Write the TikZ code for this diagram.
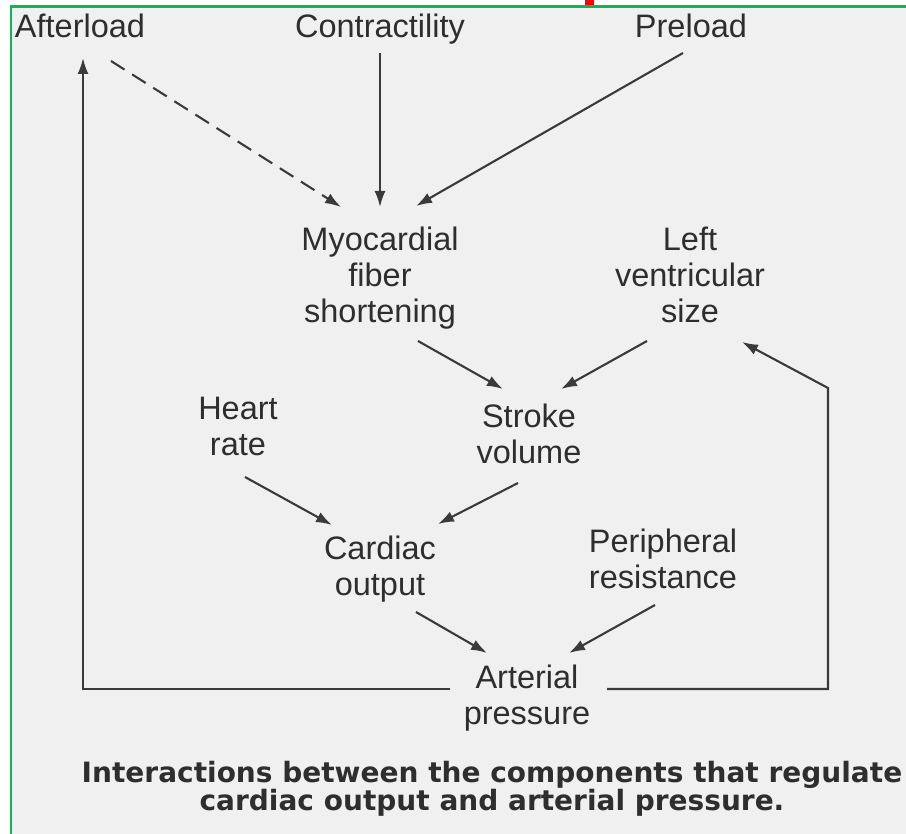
\documentclass[tikz,border=0pt]{standalone}
\usepackage{fontspec}
\setmainfont{Liberation Sans}
\newfontfamily\capfont{DejaVu Sans}
\usetikzlibrary{arrows.meta,calc}
\definecolor{pane}{HTML}{F0F0F0}
\definecolor{ink}{HTML}{2E2E2E}
\definecolor{wire}{HTML}{3A3A3A}
\definecolor{framegreen}{HTML}{16B055}
\definecolor{flagred}{HTML}{FF0000}

\begin{document}
\begin{tikzpicture}[
  x=1pt, y=-1pt,
  tip/.style={-{Latex[length=16pt,width=11pt]}},
  arr/.style={wire, line width=2.1pt, tip},
  word/.style={font=\fontsize{32.5}{36}\selectfont, text=ink, align=center, inner sep=0pt, anchor=north},
  capline/.style={font=\capfont\bfseries\fontsize{28}{27}\selectfont, text=ink, align=center, inner sep=0pt, anchor=north}
]
\useasboundingbox (0,0) rectangle (906,834);

% panel
\fill[white] (0,0) rectangle (906,834);
\fill[pane] (11,6) rectangle (906,834);
\draw[framegreen, line width=2.6pt] (11,834) -- (11,6.5) -- (906,6.5);
\fill[flagred] (585,0) rectangle (594,5.5);

% factors
\node[word] (aft) at (80,14) {Afterload};
\node[word] (con) at (380,14) {Contractility};
\node[word] (pre) at (691,14) {Preload};
\node[word] (myo) at (380,227) {Myocardial\\fiber\\shortening};
\node[word] (lvs) at (690,227) {Left\\ventricular\\size};
\node[word] (hr) at (238,397) {Heart\\rate};
\node[word] (sv) at (529,404) {Stroke\\volume};
\node[word] (co) at (380,536) {Cardiac\\output};
\node[word] (pr) at (663,529) {Peripheral\\resistance};
\node[word] (ap) at (527,665) {Arterial\\pressure};

% inputs to fiber shortening
\draw[arr, dash pattern=on 16pt off 9pt] ($(aft.north)+(31,47)$) -- ($(myo.north)+(-39,-20)$);
\draw[arr] ($(con.north)+(0,39)$) -- ($(myo.north)+(0,-20)$);
\draw[arr] ($(pre.north)+(-8,39)$) -- ($(myo.north)+(36,-21)$);

% stroke volume
\draw[arr] ($(myo.north)+(38,114)$) -- ($(sv.north)+(-26,-15)$);
\draw[arr] ($(lvs.north)+(-43,114)$) -- ($(sv.north)+(32,-15)$);

% cardiac output
\draw[arr] ($(hr.north)+(7,80)$) -- ($(co.north)+(-48,-11)$);
\draw[arr] ($(sv.north)+(-11,79)$) -- ($(co.north)+(58,-12)$);

% arterial pressure
\draw[arr] ($(co.north)+(36,76)$) -- ($(ap.north)+(-40,-12)$);
\draw[arr] ($(pr.north)+(-8,76)$) -- ($(ap.north)+(42,-12)$);

% feedback loops
\coordinate (rc) at (828,388);
\draw[arr] ($(ap.north)+(-77,24)$) -| ($(aft.north)+(3,44)$);
\draw[arr] ($(ap.north)+(80,24)$) -| (rc) -- ($(lvs.north)+(52,115)$);

\node[capline] (cap) at (492,761) {Interactions between the components that regulate\\cardiac output and arterial pressure.};
\end{tikzpicture}
\end{document}
